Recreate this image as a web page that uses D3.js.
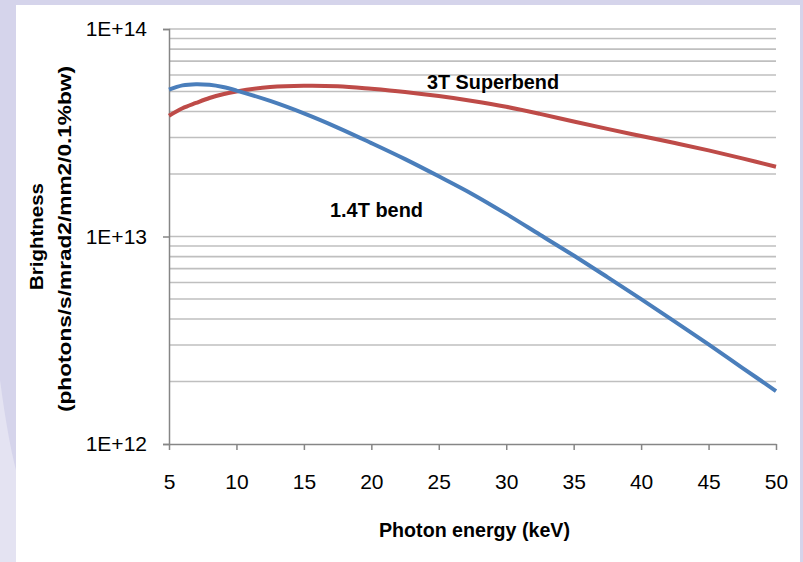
<!DOCTYPE html>
<html>
<head>
<meta charset="utf-8">
<script src="https://d3js.org/d3.v7.min.js"></script>
<style>
  body { margin: 0; background: #d5d4eb; }
  svg { display: block; }
  .tick-label { font-family: "Liberation Sans Narrow", "Liberation Sans", sans-serif; font-size: 21px; fill: #000; }
  .title { font-family: "Liberation Sans Narrow", "Liberation Sans", sans-serif; font-weight: bold; fill: #000; }
</style>
</head>
<body>
<svg id="chart" width="803" height="562"></svg>
<script>
// photon energy (keV)
const energy = [5, 6, 7, 8, 9, 10, 12.5, 15, 17.5, 20, 22.5, 25, 27.5, 30, 32.5, 35, 37.5, 40, 42.5, 45, 47.5, 50];
// 1.4T bend brightness
const bend14 = [5.1e13, 5.35e13, 5.42e13, 5.38e13, 5.25e13, 5.05e13, 4.5e13, 3.92e13, 3.35e13, 2.82e13, 2.36e13,
                1.95e13, 1.6e13, 1.285e13, 1.02e13, 8.1e12, 6.37e12, 4.99e12, 3.89e12, 3.02e12, 2.33e12, 1.8e12];
// 3T superbend brightness
const superbend3 = [3.82e13, 4.15e13, 4.4e13, 4.65e13, 4.85e13, 5.0e13, 5.25e13, 5.33e13, 5.3e13, 5.15e13, 4.97e13,
                    4.75e13, 4.5e13, 4.22e13, 3.9e13, 3.58e13, 3.3e13, 3.05e13, 2.82e13, 2.6e13, 2.38e13, 2.17e13];
const xTicks = [5, 10, 15, 20, 25, 30, 35, 40, 45, 50];
const yMajor = [1e12, 1e13, 1e14];
const yLabels = ['1E+12', '1E+13', '1E+14'];

const svg = d3.select('#chart');

// background panel + left swoosh
svg.append('rect').attr('width', 803).attr('height', 562).attr('fill', '#d5d4eb');
svg.append('path').attr('d', 'M0,380 Q8,440 16,470 L16,562 L0,562 Z').attr('fill', '#e4e3f2');
svg.append('rect').attr('x', 16).attr('y', 5).attr('width', 784).attr('height', 557).attr('fill', '#fff');

const plotL = 169, plotR = 776, plotT = 29, plotB = 444;
const x = d3.scaleLinear().domain([5, 50]).range([plotL, plotR]);
const y = d3.scaleLog().domain([1e12, 1e14]).range([plotB, plotT]);

// gridlines at every minor decade step
const gridVals = [];
for (let e = 12; e < 14; e++) for (let m = 1; m <= 9; m++) gridVals.push(m * Math.pow(10, e));
gridVals.push(1e14);
svg.append('g').selectAll('line').data(gridVals.filter(v => v > 1e12)).join('line')
  .attr('x1', plotL).attr('x2', plotR)
  .attr('y1', d => y(d)).attr('y2', d => y(d))
  .attr('stroke', '#bfbfbf').attr('stroke-width', 1.6);

// y axis
const yAxis = svg.append('g').attr('transform', `translate(${plotL},0)`)
  .call(d3.axisLeft(y).tickValues(yMajor).tickSize(6).tickPadding(16)
    .tickFormat((d, i) => yLabels[i]));
yAxis.attr('font-size', null).attr('font-family', null);
yAxis.select('.domain').attr('stroke', '#868686').attr('stroke-width', 1.5);
yAxis.selectAll('.tick line').attr('stroke', '#868686').attr('stroke-width', 1.5);
yAxis.selectAll('.tick text').attr('class', 'tick-label');

// x axis
const xAxis = svg.append('g').attr('transform', `translate(0,${plotB})`)
  .call(d3.axisBottom(x).tickValues(xTicks).tickSize(6).tickPadding(24).tickSizeOuter(0));
xAxis.attr('font-size', null).attr('font-family', null);
xAxis.select('.domain').attr('stroke', '#868686').attr('stroke-width', 1.5);
xAxis.selectAll('.tick line').attr('stroke', '#868686').attr('stroke-width', 1.5);
xAxis.selectAll('.tick text').attr('class', 'tick-label');

// curves
const line = vals => d3.line()
  .x((d, i) => x(energy[i]))
  .y(d => y(d))
  .curve(d3.curveCatmullRom)(vals);
svg.append('path').attr('d', line(superbend3)).attr('fill', 'none')
  .attr('stroke', '#be4b48').attr('stroke-width', 4);
svg.append('path').attr('d', line(bend14)).attr('fill', 'none')
  .attr('stroke', '#4a7ebb').attr('stroke-width', 4);

// annotations
svg.append('text').attr('class', 'title').attr('x', 427).attr('y', 89)
  .attr('font-size', 20).attr('textLength', 132).attr('lengthAdjust', 'spacingAndGlyphs').text('3T Superbend');
svg.append('text').attr('class', 'title').attr('x', 330).attr('y', 217)
  .attr('font-size', 21).attr('textLength', 93).attr('lengthAdjust', 'spacingAndGlyphs').text('1.4T bend');

// axis titles
svg.append('text').attr('class', 'title').attr('x', 379).attr('y', 537)
  .attr('font-size', 21).attr('textLength', 191).attr('lengthAdjust', 'spacingAndGlyphs').text('Photon energy (keV)');

const yt = svg.append('g').attr('transform', 'rotate(-90)');
yt.append('text').attr('class', 'title').attr('x', -290).attr('y', 43)
  .style('font-family', '"Liberation Sans", sans-serif')
  .attr('font-size', 19).attr('textLength', 107).attr('lengthAdjust', 'spacingAndGlyphs').text('Brightness');
yt.append('text').attr('class', 'title').attr('x', -412).attr('y', 71)
  .style('font-family', '"Liberation Sans", sans-serif')
  .attr('font-size', 19).attr('textLength', 346).attr('lengthAdjust', 'spacingAndGlyphs').text('(photons/s/mrad2/mm2/0.1%bw)');
</script>
</body>
</html>
